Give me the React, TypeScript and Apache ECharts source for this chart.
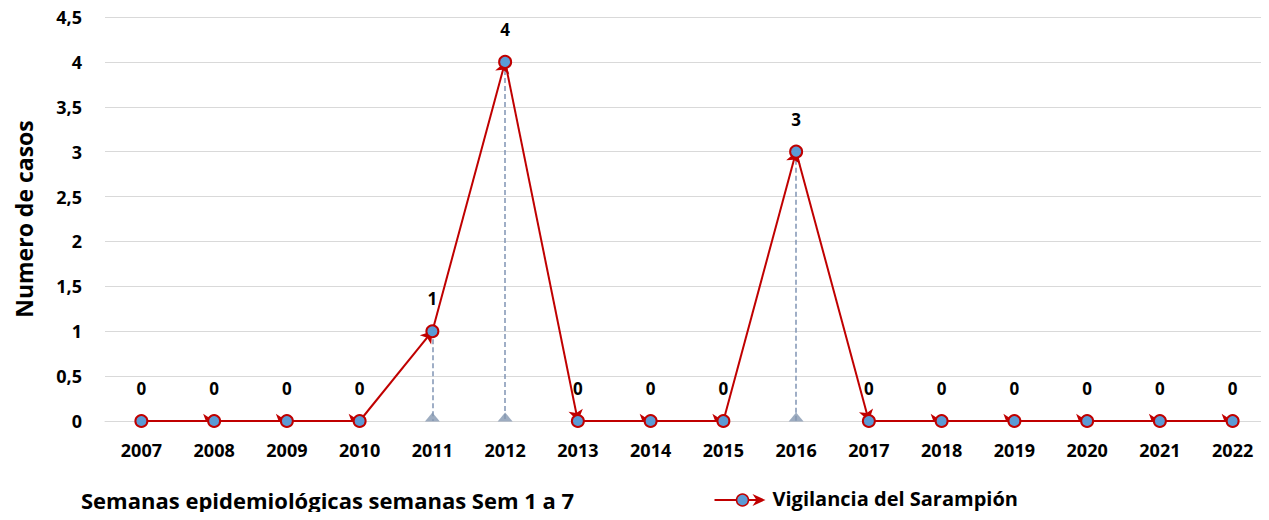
import React, { useEffect, useRef } from "react";
import * as echarts from "echarts";

const years = ["2007","2008","2009","2010","2011","2012","2013","2014","2015","2016","2017","2018","2019","2020","2021","2022"];
const cases = [0,0,0,0,1,4,0,0,0,3,0,0,0,0,0,0];
const yTicks = [0,0.5,1,1.5,2,2.5,3,3.5,4,4.5];
const seriesName = "Vigilancia del Sarampión";
const xTitle = "Semanas epidemiológicas semanas Sem 1 a 7";
const yTitle = "Numero de casos";

const FONT = "'Open Sans', sans-serif";
const RED = "#c00000";
const BLUE = "#5b9bd5";
const DROP = "#7f93b3";

export default function App() {
  const ref = useRef<HTMLDivElement>(null);
  useEffect(() => {
    if (!ref.current) return;
    const chart = echarts.init(ref.current, null, { renderer: "svg" });
    const segs = [] as any[];
    for (let i = 1; i < years.length; i++) {
      segs.push({ coords: [[years[i - 1], cases[i - 1]], [years[i], cases[i]]] });
    }
    const drops = [] as any[];
    const tris = [] as any[];
    years.forEach((y, i) => {
      if (cases[i] > 0) {
        drops.push({ coords: [[y, cases[i]], [y, 0]] });
        tris.push([y, 0]);
      }
    });
    chart.setOption({
      animation: false,
      grid: { left: 105, right: 0, top: 17, bottom: 99 },
      xAxis: {
        type: "category",
        data: years,
        boundaryGap: true,
        axisLine: { show: true, lineStyle: { color: "#d9d9d9" } },
        axisTick: { show: false },
        axisLabel: { color: "#000", fontWeight: "bold", fontSize: 18, fontFamily: FONT, margin: 20 },
      },
      yAxis: {
        type: "value",
        min: yTicks[0],
        max: yTicks[yTicks.length - 1],
        interval: 0.5,
        name: yTitle,
        nameLocation: "middle",
        nameGap: 70,
        nameTextStyle: { color: "#000", fontWeight: "bold", fontSize: 23, fontFamily: FONT },
        axisLine: { show: false },
        axisTick: { show: false },
        splitLine: { lineStyle: { color: "#d9d9d9", width: 1 } },
        axisLabel: {
          color: "#000", fontWeight: "bold", fontSize: 18, fontFamily: FONT, margin: 23, align: "right",
          formatter: (v: number) => String(v).replace(".", ","),
        },
      },
      series: [
        {
          type: "lines",
          coordinateSystem: "cartesian2d",
          data: drops,
          lineStyle: { color: DROP, width: 1.5, type: [5, 3], opacity: 1 },
          symbol: ["none", "none"],
          z: 1,
        },
        {
          type: "scatter",
          data: tris,
          symbol: "triangle",
          symbolSize: [15, 9],
          symbolOffset: [0, -4],
          itemStyle: { color: "#8497b0" },
          z: 2,
          silent: true,
        },
        {
          type: "lines",
          coordinateSystem: "cartesian2d",
          data: segs,
          lineStyle: { color: RED, width: 2, opacity: 1 },
          symbol: ["none", "arrow"],
          symbolSize: 11,
          z: 3,
        },
        {
          type: "line",
          name: seriesName,
          data: cases,
          symbol: "circle",
          symbolSize: 12,
          lineStyle: { width: 0 },
          itemStyle: { color: BLUE, borderColor: RED, borderWidth: 2 },
          label: {
            show: true, position: "top", distance: 17,
            color: "#000", fontWeight: "bold", fontSize: 17, fontFamily: FONT,
          },
          z: 4,
        },
      ],
      graphic: [
        {
          type: "text", left: 81, top: 489,
          style: { text: xTitle, fill: "#000", font: `bold 22px ${FONT}` },
        },
        {
          type: "group", left: 712, top: 488,
          children: [
            { type: "line", shape: { x1: 0, y1: 12, x2: 46, y2: 12 }, style: { stroke: RED, lineWidth: 2 } },
            { type: "circle", shape: { cx: 28, cy: 12, r: 6 }, style: { fill: BLUE, stroke: RED, lineWidth: 1.5 } },
            { type: "polygon", shape: { points: [[38, 6], [51, 12], [38, 18], [42, 12]] }, style: { fill: RED } },
            { type: "text", x: 58, y: 0, style: { text: seriesName, fill: "#000", font: `bold 20px ${FONT}` } },
          ],
        },
      ],
    });
    return () => chart.dispose();
  }, []);
  return <div ref={ref} style={{ width: 1269, height: 520, margin: -8 }} />;
}
